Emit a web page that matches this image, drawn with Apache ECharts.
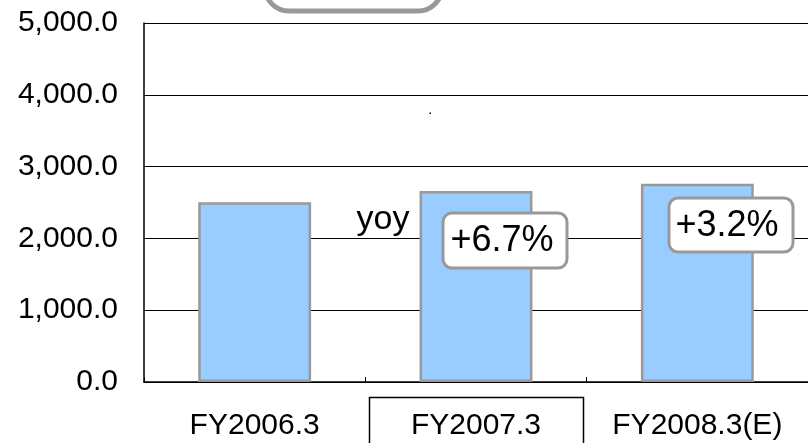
<!DOCTYPE html>
<html>
<head>
<meta charset="utf-8">
<script src="https://cdn.jsdelivr.net/npm/echarts@6/dist/echarts.min.js"></script>
<style>
  html, body { margin: 0; padding: 0; background: #fff; }
  #chart { width: 808px; height: 443px; }
</style>
</head>
<body>
<div id="chart"></div>
<script>
const categories = ["FY2006.3", "FY2007.3", "FY2008.3(E)"];
const sales = [2505, 2660, 2762];
const yoyLabels = ["+6.7%", "+3.2%"];

const FONT = "Liberation Sans, Arial, sans-serif";

const myChart = echarts.init(document.getElementById("chart"));
const option = {
  animation: false,
  grid: { left: 144, right: -5, top: 23, bottom: 61 },
  xAxis: {
    type: "category",
    data: categories,
    axisLine: { lineStyle: { color: "#000", width: 1.5 } },
    axisTick: { show: true, inside: true, length: 5, lineStyle: { color: "#000" } },
    axisLabel: { color: "#000", fontSize: 30, fontFamily: FONT, margin: 29 }
  },
  yAxis: {
    type: "value",
    min: 0,
    max: 5000,
    interval: 1000,
    axisLine: { show: true, lineStyle: { color: "#000", width: 1.5 } },
    axisTick: { show: false },
    splitLine: { lineStyle: { color: "#000", width: 1 } },
    axisLabel: {
      color: "#000",
      fontSize: 30,
      fontFamily: FONT,
      margin: 26,
      formatter: v => v.toLocaleString("en-US", { minimumFractionDigits: 1, maximumFractionDigits: 1 })
    }
  },
  series: [
    {
      type: "bar",
      data: sales,
      barCategoryGap: "49%",
      itemStyle: { color: "#99CCFF", borderColor: "#999999", borderWidth: 2.5 }
    }
  ],
  graphic: [
    {
      type: "rect", z: 100,
      shape: { x: 265, y: -40, width: 177, height: 51, r: 24 },
      style: { fill: "#fff", stroke: "#999", lineWidth: 5 }
    },
    {
      type: "rect", z: 100,
      shape: { x: 429.5, y: 112.5, width: 1.5, height: 1.5 },
      style: { fill: "#000" }
    },
    {
      type: "text", z: 100,
      x: 383, y: 220,
      style: { text: "yoy", fontSize: 34, fontFamily: FONT, fill: "#000", align: "center", verticalAlign: "middle" }
    },
    {
      type: "rect", z: 100,
      shape: { x: 443, y: 213, width: 124, height: 55, r: 9 },
      style: { fill: "#fff", stroke: "#999", lineWidth: 3 }
    },
    {
      type: "text", z: 101,
      x: 502, y: 241,
      style: { text: yoyLabels[0], fontSize: 36, fontFamily: FONT, fill: "#000", align: "center", verticalAlign: "middle" }
    },
    {
      type: "rect", z: 100,
      shape: { x: 669, y: 198, width: 124, height: 54, r: 9 },
      style: { fill: "#fff", stroke: "#999", lineWidth: 3 }
    },
    {
      type: "text", z: 101,
      x: 727, y: 226,
      style: { text: yoyLabels[1], fontSize: 36, fontFamily: FONT, fill: "#000", align: "center", verticalAlign: "middle" }
    },
    {
      type: "rect", z: 100,
      shape: { x: 369.5, y: 397.5, width: 214, height: 60 },
      style: { fill: "none", stroke: "#000", lineWidth: 1.5 }
    }
  ]
};
myChart.setOption(option);
</script>
</body>
</html>
